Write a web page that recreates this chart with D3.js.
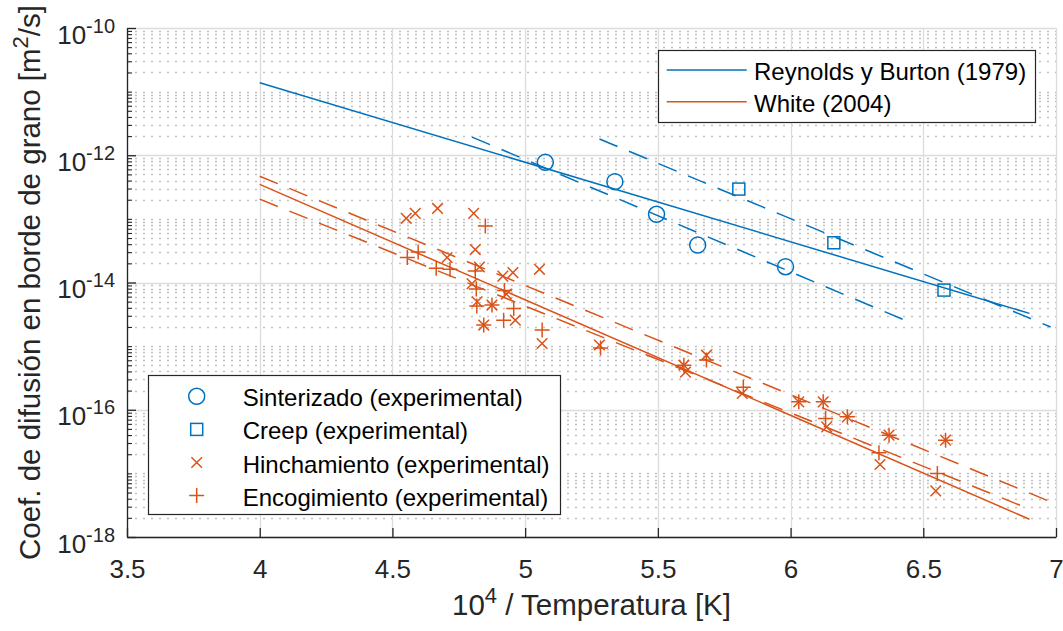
<!DOCTYPE html>
<html>
<head>
<meta charset="utf-8">
<script src="https://cdn.jsdelivr.net/npm/d3@7"></script>
<style>
  html, body { margin: 0; padding: 0; background: #fff; }
  svg { display: block; font-family: "Liberation Sans", Arial, Helvetica, sans-serif; }
</style>
</head>
<body>
<svg id="chart" width="1063" height="631"></svg>
<script>
// ---- axis ticks ----
const xTicks = [3.5, 4, 4.5, 5, 5.5, 6, 6.5, 7];
const xTickLabels = ["3.5", "4", "4.5", "5", "5.5", "6", "6.5", "7"];
const yTickExps = [-18, -16, -14, -12, -10];

// ---- experimental data (x = 10^4 / T, y = D in m^2/s) ----
const sintX = [5.076, 5.338, 5.495, 5.650, 5.981];
const sintY = [7.73e-13, 3.85e-13, 1.18e-13, 3.87e-14, 1.77e-14];

const creepX = [5.805, 6.163, 6.578];
const creepY = [2.94e-13, 4.21e-14, 7.60e-15];

const hinchX = [4.552, 4.586, 4.670, 4.806, 4.706, 4.812, 4.828, 4.800, 4.916, 4.954,
                5.054, 4.819, 4.875, 4.963, 4.844, 5.064, 5.280, 5.604, 5.598, 5.683,
                5.818, 6.031, 6.123, 6.136, 6.214, 6.371, 6.337, 6.584, 6.547, 4.929];
const hinchY = [1.02e-13, 1.22e-13, 1.46e-13, 1.22e-13, 2.47e-14, 3.29e-14, 1.75e-14, 9.55e-15, 1.26e-14, 1.43e-14,
                1.61e-14, 4.98e-15, 4.42e-15, 2.56e-15, 2.14e-15, 1.10e-15, 1.04e-15, 3.90e-16, 5.02e-16, 7.21e-16,
                1.80e-16, 1.33e-16, 1.33e-16, 5.38e-17, 7.73e-17, 3.99e-17, 1.38e-17, 3.33e-17, 5.31e-18, 6.58e-15];

const encogX = [4.556, 4.597, 4.665, 4.717, 4.850, 4.812, 4.816, 4.922, 4.818, 4.875,
                4.957, 4.919, 4.844, 5.064, 5.284, 5.598, 5.683, 5.822, 6.031, 6.123,
                6.132, 6.214, 6.371, 6.333, 6.584, 6.553];
const encogY = [2.47e-14, 3.01e-14, 1.68e-14, 1.61e-14, 7.71e-14, 1.51e-14, 7.87e-15, 7.46e-15, 4.26e-15, 4.42e-15,
                3.92e-15, 2.56e-15, 2.14e-15, 1.79e-15, 9.31e-16, 5.02e-16, 6.03e-16, 2.26e-16, 1.33e-16, 1.33e-16,
                7.30e-17, 7.73e-17, 3.99e-17, 2.10e-17, 3.33e-17, 9.95e-18];

// ---- literature correlations and fits (endpoints of straight lines in log space) ----
const reynoldsX = [4.0, 6.9];
const reynoldsY = [1.38e-11, 3.27e-15];
const whiteX = [4.0, 6.9];
const whiteY = [3.48e-13, 1.90e-18];

const fitCreepX = [5.28, 6.98];
const fitCreepY = [1.80e-12, 2.00e-15];
const fitSintX = [4.80, 6.43];
const fitSintY = [1.93e-12, 2.56e-15];
const fitHinchX = [4.0, 7.0];
const fitHinchY = [4.68e-13, 3.30e-18];
const fitEncogX = [4.0, 6.9];
const fitEncogY = [2.04e-13, 2.75e-18];

const legendLines = ["Reynolds y Burton (1979)", "White (2004)"];
const legendMarkers = ["Sinterizado (experimental)", "Creep (experimental)",
                       "Hinchamiento (experimental)", "Encogimiento (experimental)"];

// ---- layout ----
const BLUE = "#0072BD", ORANGE = "#D95319", AXIS = "#262626";
const L = 127, R = 1056, T = 28, B = 537;

const svg = d3.select("#chart");
const x = d3.scaleLinear().domain([3.5, 7]).range([L, R]);
const y = d3.scaleLog().domain([1e-18, 1e-10]).range([B, T]);

const majorY = yTickExps.map(e => Math.pow(10, e));
const minorY = [];
for (let e = -18; e < -10; e++) {
  for (let m = 1; m <= 9; m++) {
    const v = m * Math.pow(10, e);
    if (!(m === 1 && e % 2 === 0)) minorY.push(v);
  }
}

// grid
const grid = svg.append("g");
grid.selectAll("line.ymin").data(minorY).join("line")
  .attr("x1", L).attr("x2", R)
  .attr("y1", d => Math.round(y(d)) + 0.5).attr("y2", d => Math.round(y(d)) + 0.5)
  .attr("stroke", "#c0c0c0").attr("stroke-width", 1.3)
  .attr("stroke-dasharray", "2,6");
grid.selectAll("line.ymaj").data(majorY).join("line")
  .attr("x1", L).attr("x2", R)
  .attr("y1", d => Math.round(y(d)) + 0.5).attr("y2", d => Math.round(y(d)) + 0.5)
  .attr("stroke", "#dcdcdc").attr("stroke-width", 1.3);
grid.selectAll("line.xmaj").data(xTicks).join("line")
  .attr("y1", T).attr("y2", B)
  .attr("x1", d => Math.round(x(d)) + 0.5).attr("x2", d => Math.round(x(d)) + 0.5)
  .attr("stroke", "#dcdcdc").attr("stroke-width", 1.3);

// lines
const line = d3.line().x(d => x(d[0])).y(d => y(d[1]));
function drawLine(xs, ys, color, dash) {
  svg.append("path")
    .attr("d", line(xs.map((v, i) => [v, ys[i]])))
    .attr("fill", "none").attr("stroke", color).attr("stroke-width", 1.5)
    .attr("stroke-dasharray", dash || null);
}
drawLine(reynoldsX, reynoldsY, BLUE);
drawLine(whiteX, whiteY, ORANGE);
drawLine(fitCreepX, fitCreepY, BLUE, "19.5,12.5");
drawLine(fitSintX, fitSintY, BLUE, "19.5,12.5");
drawLine(fitHinchX, fitHinchY, ORANGE, "19.5,12.5");
drawLine(fitEncogX, fitEncogY, ORANGE, "19.5,12.5");

// marker shapes
const crossPath = s => `M${-s},${-s}L${s},${s}M${-s},${s}L${s},${-s}`;
const plusPath = s => `M${-s},0H${s}M0,${-s}V${s}`;

function zip(xs, ys) { return xs.map((v, i) => [v, ys[i]]); }

svg.append("g").selectAll("circle").data(zip(sintX, sintY)).join("circle")
  .attr("cx", d => x(d[0])).attr("cy", d => y(d[1])).attr("r", 8)
  .attr("fill", "none").attr("stroke", BLUE).attr("stroke-width", 1.5);
svg.append("g").selectAll("rect").data(zip(creepX, creepY)).join("rect")
  .attr("x", d => x(d[0]) - 6).attr("y", d => y(d[1]) - 6)
  .attr("width", 12).attr("height", 12)
  .attr("fill", "none").attr("stroke", BLUE).attr("stroke-width", 1.5);
svg.append("g").selectAll("path").data(zip(hinchX, hinchY)).join("path")
  .attr("transform", d => `translate(${x(d[0])},${y(d[1])})`)
  .attr("d", crossPath(5.3))
  .attr("fill", "none").attr("stroke", ORANGE).attr("stroke-width", 1.5);
svg.append("g").selectAll("path").data(zip(encogX, encogY)).join("path")
  .attr("transform", d => `translate(${x(d[0])},${y(d[1])})`)
  .attr("d", plusPath(7.5))
  .attr("fill", "none").attr("stroke", ORANGE).attr("stroke-width", 1.5);

// x axis
const xAxis = svg.append("g").attr("transform", `translate(0,${B})`)
  .call(d3.axisBottom(x).tickValues(xTicks).tickSizeInner(-9).tickSizeOuter(0)
        .tickFormat((d, i) => xTickLabels[i]));
xAxis.select(".domain").attr("stroke", AXIS).attr("stroke-width", 1.3);
xAxis.selectAll(".tick line").attr("stroke", AXIS).attr("stroke-width", 1.3);
xAxis.selectAll(".tick text")
  .attr("y", 41).attr("dy", null)
  .attr("fill", AXIS).attr("font-size", 26).attr("font-family", null);

// y axis (major + minor ticks)
const yMinorAxis = svg.append("g").attr("transform", `translate(${L},0)`)
  .call(d3.axisLeft(y).tickValues(minorY).tickSizeInner(-5).tickSizeOuter(0).tickFormat(""));
yMinorAxis.select(".domain").remove();
yMinorAxis.selectAll(".tick line").attr("stroke", AXIS).attr("stroke-width", 1.1);

const yAxis = svg.append("g").attr("transform", `translate(${L},0)`)
  .call(d3.axisLeft(y).tickValues(majorY).tickSizeInner(-9).tickSizeOuter(0).tickFormat(""));
yAxis.select(".domain").attr("stroke", AXIS).attr("stroke-width", 1.3);
yAxis.selectAll(".tick line").attr("stroke", AXIS).attr("stroke-width", 1.3);
yAxis.selectAll(".tick text").each(function (d, i) {
  const t = d3.select(this)
    .attr("x", -12).attr("y", 15).attr("dy", null)
    .attr("text-anchor", "end").attr("fill", AXIS).attr("font-family", null)
    .attr("font-size", 26);
  t.append("tspan").text("10");
  t.append("tspan").attr("dy", -11).attr("font-size", 20).text(String(yTickExps[i]));
});

// axis labels
const xl = svg.append("text")
  .attr("x", (L + R) / 2).attr("y", 615).attr("text-anchor", "middle")
  .attr("fill", AXIS).attr("font-size", 29.5);
xl.append("tspan").text("10");
xl.append("tspan").attr("dy", -12).attr("font-size", 22).text("4");
xl.append("tspan").attr("dy", 12).text(" / Temperatura [K]");

const yl = svg.append("text")
  .attr("transform", `translate(40,${(T + B) / 2}) rotate(-90)`)
  .attr("text-anchor", "middle").attr("fill", AXIS).attr("font-size", 29.5);
yl.append("tspan").text("Coef. de difusión en borde de grano [m");
yl.append("tspan").attr("dy", -12).attr("font-size", 22).text("2");
yl.append("tspan").attr("dy", 12).text("/s]");

// legend: literature lines
const lg1 = svg.append("g");
lg1.append("rect").attr("x", 658.5).attr("y", 50.5).attr("width", 377).attr("height", 72)
  .attr("fill", "#fff").attr("stroke", AXIS).attr("stroke-width", 1.2);
[BLUE, ORANGE].forEach((c, i) => {
  const yy = 70 + i * 31.7;
  lg1.append("line").attr("x1", 666.7).attr("x2", 746.7).attr("y1", yy).attr("y2", yy)
    .attr("stroke", c).attr("stroke-width", 1.5);
  lg1.append("text").attr("x", 754).attr("y", yy + 10).attr("font-size", 24)
    .attr("fill", "#000").text(legendLines[i]);
});

// legend: experimental markers
const lg2 = svg.append("g");
lg2.append("rect").attr("x", 148.5).attr("y", 375.5).attr("width", 412).attr("height", 139)
  .attr("fill", "#fff").attr("stroke", AXIS).attr("stroke-width", 1.2);
legendMarkers.forEach((name, i) => {
  const yy = 396.3 + i * 33.1, xx = 196.7;
  if (i === 0) lg2.append("circle").attr("cx", xx).attr("cy", yy).attr("r", 8)
    .attr("fill", "none").attr("stroke", BLUE).attr("stroke-width", 1.5);
  if (i === 1) lg2.append("rect").attr("x", xx - 6).attr("y", yy - 6).attr("width", 12).attr("height", 12)
    .attr("fill", "none").attr("stroke", BLUE).attr("stroke-width", 1.5);
  if (i === 2) lg2.append("path").attr("transform", `translate(${xx},${yy})`).attr("d", crossPath(5.3))
    .attr("fill", "none").attr("stroke", ORANGE).attr("stroke-width", 1.5);
  if (i === 3) lg2.append("path").attr("transform", `translate(${xx},${yy})`).attr("d", plusPath(7.5))
    .attr("fill", "none").attr("stroke", ORANGE).attr("stroke-width", 1.5);
  lg2.append("text").attr("x", 242.7).attr("y", yy + 10).attr("font-size", 24)
    .attr("fill", "#000").text(name);
});
</script>
</body>
</html>
